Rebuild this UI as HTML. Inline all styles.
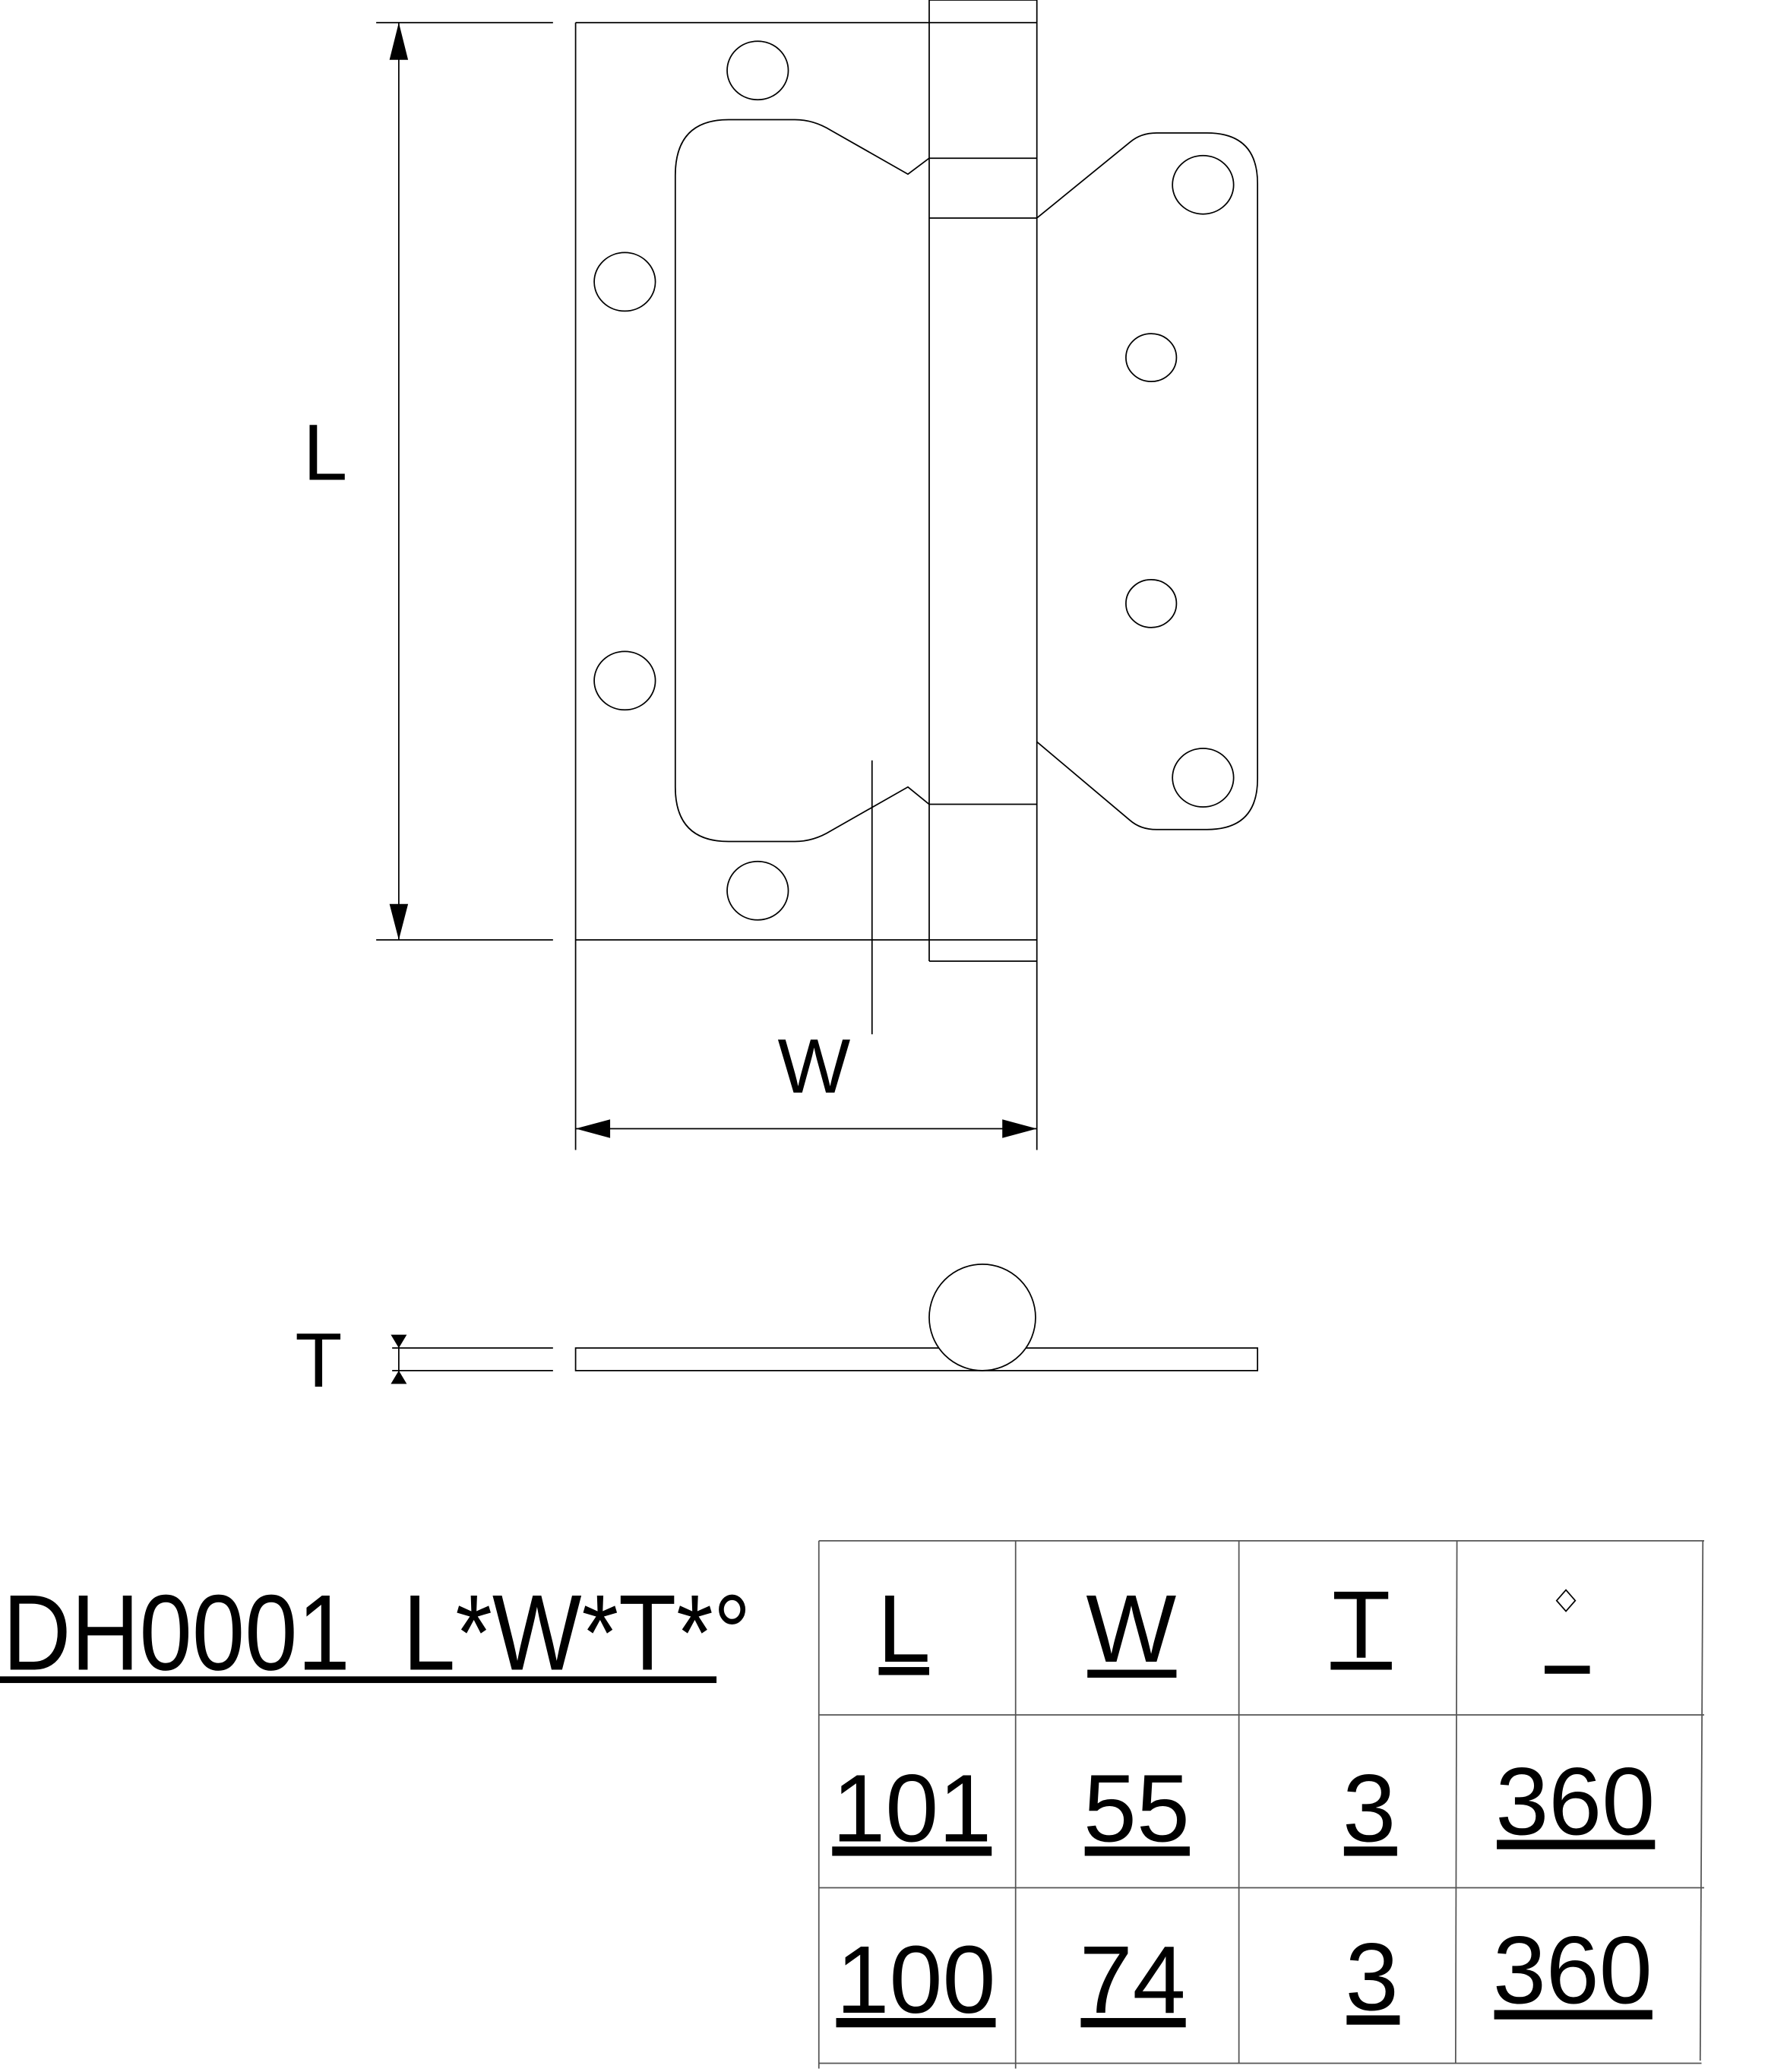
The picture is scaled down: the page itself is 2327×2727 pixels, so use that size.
<!DOCTYPE html>
<html><head><meta charset="utf-8"><style>
html,body{margin:0;padding:0;background:#fff}
svg{display:block}
text{font-family:"Liberation Sans",Arial,sans-serif;fill:#000}
</style></head><body>
<svg width="2327" height="2727" viewBox="0 0 1330 1558.6" preserveAspectRatio="none" xmlns="http://www.w3.org/2000/svg">
<g fill="none" stroke="#000" stroke-width="1">
<line x1="283" y1="17" x2="416" y2="17"/>
<line x1="283" y1="707" x2="416" y2="707"/>
<line x1="300" y1="17" x2="300" y2="707"/>
<line x1="433" y1="17" x2="780" y2="17"/>
<line x1="433" y1="17" x2="433" y2="865"/>
<line x1="433" y1="707" x2="780" y2="707"/>
<line x1="699" y1="0" x2="780" y2="0"/>
<line x1="699" y1="0" x2="699" y2="723"/>
<line x1="780" y1="0" x2="780" y2="865"/>
<line x1="699" y1="119" x2="780" y2="119"/>
<line x1="699" y1="164" x2="780" y2="164"/>
<line x1="699" y1="605" x2="780" y2="605"/>
<line x1="699" y1="723" x2="780" y2="723"/>
<path d="M699,119 L683,131 L625,98 Q612,90 598,90 L548,90 Q508,90 508,132 L508,592 Q508,633 548,633 L598,633 Q612,633 625,625 L683,592 L699,605"/>
<ellipse cx="570" cy="53" rx="23" ry="22"/>
<ellipse cx="470" cy="212" rx="23" ry="22"/>
<ellipse cx="470" cy="512" rx="23" ry="22"/>
<ellipse cx="570" cy="670" rx="23" ry="22"/>
<path d="M780,164 L850,107 Q858,100 870,100 L908,100 Q946,100 946,138 L946,586 Q946,624 908,624 L870,624 Q858,624 850,617 L780,558"/>
<ellipse cx="905" cy="139" rx="23" ry="22"/>
<ellipse cx="866" cy="269" rx="19" ry="18"/>
<ellipse cx="866" cy="454" rx="19" ry="18"/>
<ellipse cx="905" cy="585" rx="23" ry="22"/>
<line x1="656" y1="572" x2="656" y2="778"/>
<line x1="433" y1="849" x2="780" y2="849"/>
<rect x="433" y="1014" width="513" height="17"/>
<circle cx="739" cy="991" r="40" fill="#fff"/>
<line x1="295" y1="1014" x2="416" y2="1014"/>
<line x1="295" y1="1031" x2="416" y2="1031"/>
<g stroke="#555">
<line x1="616" y1="1159" x2="1282" y2="1159"/>
<line x1="616" y1="1290" x2="1282" y2="1290"/>
<line x1="616" y1="1420" x2="1282" y2="1420"/>
<line x1="616" y1="1552" x2="1280" y2="1552"/>
<line x1="616" y1="1159" x2="616" y2="1556"/>
<line x1="764" y1="1159" x2="764" y2="1556"/>
<line x1="932" y1="1159" x2="932" y2="1552"/>
<line x1="1096" y1="1159" x2="1095" y2="1552"/>
<line x1="1281" y1="1159" x2="1279" y2="1550"/>
</g>
</g>
<g fill="#000">
<polygon points="300,17 293,45 307,45"/>
<polygon points="300,707 293,680 307,680"/>
<polygon points="433,849 459,842 459,856"/>
<polygon points="780,849 754,842 754,856"/>
<polygon points="300,1014 294,1004 306,1004"/>
<polygon points="300,1031 294,1041 306,1041"/>
<line x1="300" y1="1006" x2="300" y2="1039" stroke="#000"/>
</g>
<text x="228" y="361" font-size="60">L</text>
<text x="585" y="822" font-size="58">W</text>
<text x="222" y="1043" font-size="58">T</text>
<text x="2" y="1256" font-size="81" textLength="563" lengthAdjust="spacingAndGlyphs">DH0001&#160; L*W*T*°</text>
<rect x="0" y="1261" width="539" height="5"/>
<g font-size="72">
<text x="660" y="1250">L</text><rect x="661" y="1254" width="38" height="6"/>
<text x="817" y="1250">W</text><rect x="818" y="1256" width="67" height="6"/>
<text x="1002" y="1247">T</text><rect x="1001" y="1250" width="46" height="6"/>
<path d="M1178,1196 L1185,1204 L1178,1212 L1171,1204 Z" fill="none" stroke="#000" stroke-width="1"/>
<rect x="1162" y="1253" width="34" height="6"/>
<text x="626" y="1385" textLength="120" lengthAdjust="spacingAndGlyphs">101</text><rect x="626" y="1389" width="120" height="7"/>
<text x="815" y="1385" textLength="80" lengthAdjust="spacingAndGlyphs">55</text><rect x="816" y="1389" width="79" height="7"/>
<text x="1010" y="1385">3</text><rect x="1011" y="1389" width="40" height="7"/>
<text x="1125" y="1380" textLength="120" lengthAdjust="spacingAndGlyphs">360</text><rect x="1126" y="1384" width="119" height="7"/>
<text x="629" y="1514" textLength="120" lengthAdjust="spacingAndGlyphs">100</text><rect x="629" y="1518" width="120" height="7"/>
<text x="812" y="1514" textLength="80" lengthAdjust="spacingAndGlyphs">74</text><rect x="813" y="1518" width="79" height="7"/>
<text x="1012" y="1512">3</text><rect x="1013" y="1516" width="40" height="7"/>
<text x="1123" y="1507" textLength="120" lengthAdjust="spacingAndGlyphs">360</text><rect x="1124" y="1512" width="119" height="7"/>
</g>
</svg>
</body></html>
